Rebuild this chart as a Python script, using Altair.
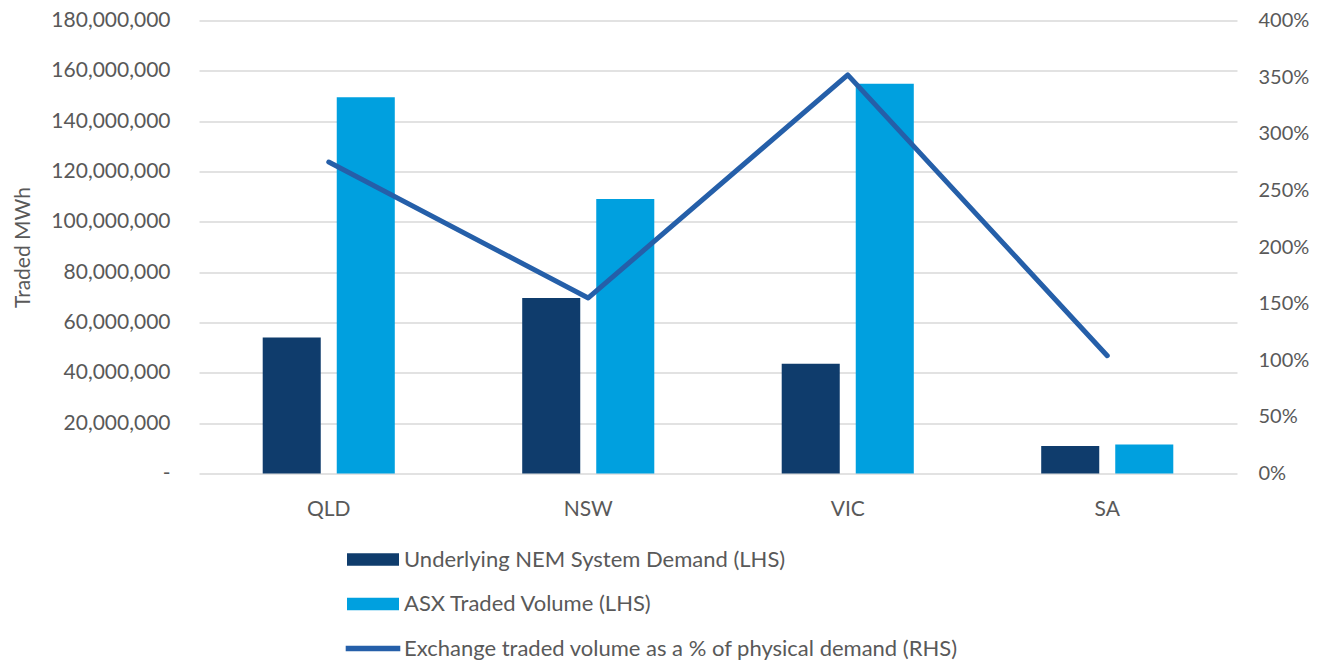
import altair as alt
import pandas as pd

# ---- data ----
regions = ["QLD", "NSW", "VIC", "SA"]
demand = [54.0e6, 69.7e6, 43.6e6, 10.9e6]       # Underlying NEM System Demand (LHS)
asx = [149.5e6, 109.1e6, 154.9e6, 11.5e6]        # ASX Traded Volume (LHS)
pct = [2.75, 1.55, 3.52, 1.04]                   # Exchange traded volume as % of demand (RHS)

S1 = "Underlying NEM System Demand (LHS)"
S2 = "ASX Traded Volume (LHS)"
S3 = "Exchange traded volume as a % of physical demand (RHS)"
series_names = [S1, S2, S3]
series_colors = ["#0F3C6C", "#00A0DF", "#255FA9"]

left_ticks = [0, 20e6, 40e6, 60e6, 80e6, 100e6, 120e6, 140e6, 160e6, 180e6]
right_ticks = [0, 0.5, 1.0, 1.5, 2.0, 2.5, 3.0, 3.5, 4.0]

bars_df = pd.DataFrame({
    "region": regions * 2,
    "series": [S1] * len(regions) + [S2] * len(regions),
    "value": demand + asx,
})
line_df = pd.DataFrame({"region": regions, "series": [S3] * len(regions), "pct": pct})

FONT = "Lato"
TXT = "#595959"

color_scale = alt.Scale(domain=series_names, range=series_colors)

legend = alt.Legend(
    title=None,
    orient="none",
    legendX=148,
    legendY=513,
    direction="vertical",
    symbolSize=2704,
    symbolType=alt.ExprRef(
        expr="datum.value === '" + S3 + "' ? 'M-1.05,-0.11H1.05V0.11H-1.05Z' : 'M-1,-0.242H1V0.242H-1Z'"
    ),
    symbolFillColor=alt.ExprRef(expr="scale('color', datum.value)"),
    symbolStrokeWidth=0,
    symbolOpacity=1,
    rowPadding=7.5,
    labelOffset=5,
    padding=0,
    labelFont=FONT,
    labelFontSize=22,
    labelColor=TXT,
    labelLimit=0,
)

x_enc = alt.X(
    "region:N",
    sort=regions,
    scale=alt.Scale(paddingInner=0.491, paddingOuter=0.2455),
    axis=alt.Axis(title=None, labelAngle=0, labelPadding=25, grid=False),
)

bars = alt.Chart(bars_df).mark_bar().encode(
    x=x_enc,
    xOffset=alt.XOffset("series:N", sort=[S1, S2], scale=alt.Scale(paddingInner=0.216, paddingOuter=0)),
    y=alt.Y(
        "value:Q",
        scale=alt.Scale(domain=[0, 180e6], nice=False),
        axis=alt.Axis(
            title="Traded MWh",
            values=left_ticks,
            labelExpr="datum.value == 0 ? '-\u2002' : format(datum.value, ',')",
            labelPadding=29,
            titlePadding=17,
            grid=True,
            gridColor="#D9D9D9",
            gridWidth=1.3,
        ),
    ),
    color=alt.Color("series:N", scale=color_scale, legend=legend),
)

line = alt.Chart(line_df).mark_line(strokeWidth=5, strokeCap="round", strokeJoin="round").encode(
    x=alt.X("region:N", sort=regions),
    y=alt.Y(
        "pct:Q",
        scale=alt.Scale(domain=[0, 4], nice=False),
        axis=alt.Axis(
            orient="right",
            title=None,
            values=right_ticks,
            format=".0%",
            grid=False,
            labelPadding=21,
            labelFontSize=20,
        ),
    ),
    color=alt.Color("series:N", scale=color_scale, legend=legend),
)

chart = (
    alt.layer(bars, line)
    .resolve_scale(y="independent")
    .properties(
        width=1038,
        height=453,
        autosize=alt.AutoSizeParams(type="none"),
        padding={"left": 191, "top": 12.5, "right": 74, "bottom": 187.5},
    )
    .configure_view(stroke=None)
    .configure_axis(
        labelFont=FONT,
        labelFontSize=21,
        labelColor=TXT,
        titleFont=FONT,
        titleFontSize=21,
        titleColor=TXT,
        titleFontWeight="normal",
        domain=False,
        ticks=False,
        tickSize=0,
    )
)

chart.save("out.html", embed_options={"renderer": "svg", "actions": False})
